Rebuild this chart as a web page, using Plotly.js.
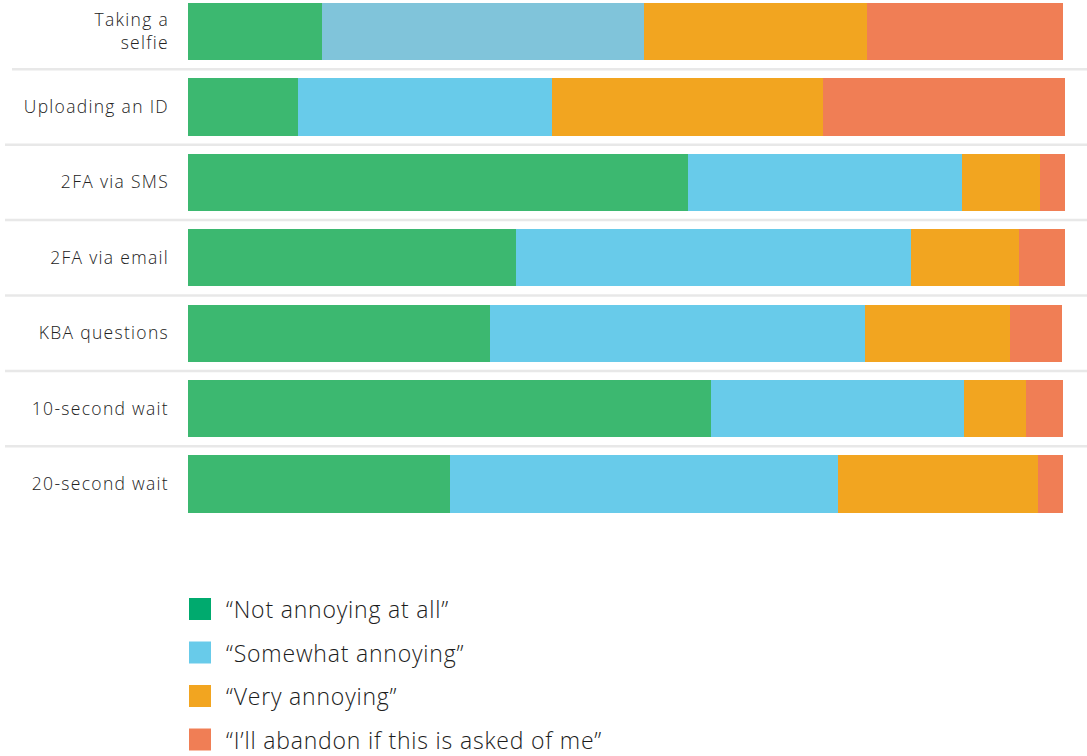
<!DOCTYPE html>
<html>
<head>
<meta charset="utf-8">
<script src="https://cdn.plot.ly/plotly-3.0.1.min.js"></script>
<style>
html,body{margin:0;padding:0;background:#fff;}
#chart{width:1087px;height:756px;}
#chart .ytick text{letter-spacing:1.3px;}
#chart .annotation-text{letter-spacing:0.8px;}
</style>
</head>
<body>
<div id="chart"></div>
<script>
// ---- data (percent of respondents) ----
const categories = ["Taking a<br>selfie", "Uploading an ID", "2FA via SMS", "2FA via email", "KBA questions", "10-second wait", "20-second wait"];
const seriesNames = ["“Not annoying at all”", "“Somewhat annoying”", "“Very annoying”", "“I’ll abandon if this is asked of me”"];
const notAnnoying      = [15.3, 12.5, 57.0, 37.4, 34.4, 59.6, 29.9];
const somewhatAnnoying = [36.7, 29.0, 31.2, 45.0, 42.8, 28.9, 44.2];
const veryAnnoying     = [25.4, 30.9,  8.9, 12.3, 16.5,  7.1, 22.8];
const abandon          = [22.4, 27.6,  2.9,  5.3,  6.0,  4.2,  2.9];

// ---- styling ----
const barColors = ["#3cb870", "#68cbea", "#f2a520", "#f07e55"];
const legendColors = ["#00aa6e", "#68cbea", "#f2a520", "#f07e55"];
const FONT = '"Open Sans", Lato, sans-serif';
const W = 1087, H = 756;
const M = {l: 188, r: 22, t: 0, b: 226};
const plotH = H - M.t - M.b, plotW = W - M.l - M.r;
const pxX = px => (px - M.l) / plotW;
const pxY = py => 1 - (py - M.t) / plotH;

const series = [notAnnoying, somewhatAnnoying, veryAnnoying, abandon];
const traces = series.map((vals, i) => ({
  type: 'bar',
  orientation: 'h',
  name: seriesNames[i],
  y: categories,
  x: vals,
  width: 0.76,
  marker: {
    color: (i === 1) ? categories.map((c, k) => k === 0 ? "#80c4da" : barColors[1]) : barColors[i],
    line: {width: 0}
  },
  hoverinfo: 'x+y',
  showlegend: false
}));

const shapes = [];
for (let k = 0; k < categories.length - 1; k++) {
  shapes.push({
    type: 'line', xref: 'paper', yref: 'y',
    x0: pxX(k === 0 ? 12 : 5), x1: pxX(W), y0: k + 0.5, y1: k + 0.5,
    line: {color: '#e8e8e8', width: 2.5}, layer: 'below'
  });
}
const annotations = [];
const legendTop = 609, legendStep = 43.5, sq = 22;
seriesNames.forEach((n, i) => {
  const cy = legendTop + i * legendStep;
  shapes.push({
    type: 'rect', xref: 'paper', yref: 'paper',
    x0: pxX(189), x1: pxX(189 + sq), y0: pxY(cy - sq / 2), y1: pxY(cy + sq / 2),
    fillcolor: legendColors[i], line: {width: 0}
  });
  annotations.push({
    xref: 'paper', yref: 'paper', x: pxX(225), y: pxY(cy),
    xanchor: 'left', yanchor: 'middle', showarrow: false,
    width: 460, align: 'left', borderpad: 0,
    text: n, font: {family: FONT, size: 23, color: '#1c1c1c', weight: 300}
  });
});

const layout = {
  width: W, height: H,
  margin: M,
  paper_bgcolor: '#fff', plot_bgcolor: '#fff',
  barmode: 'stack',
  bargap: 0.24,
  showlegend: false,
  xaxis: {range: [0, 100], visible: false, fixedrange: true},
  yaxis: {
    type: 'category',
    range: [6.609, -0.418],
    showgrid: false, zeroline: false, showline: false,
    ticks: '', ticklabelstandoff: 18,
    tickfont: {family: FONT, size: 17.5, color: '#222', weight: 300},
    fixedrange: true
  },
  shapes: shapes,
  annotations: annotations,
  font: {family: FONT}
};

Plotly.newPlot('chart', traces, layout, {displayModeBar: false, staticPlot: false});
</script>
</body>
</html>
